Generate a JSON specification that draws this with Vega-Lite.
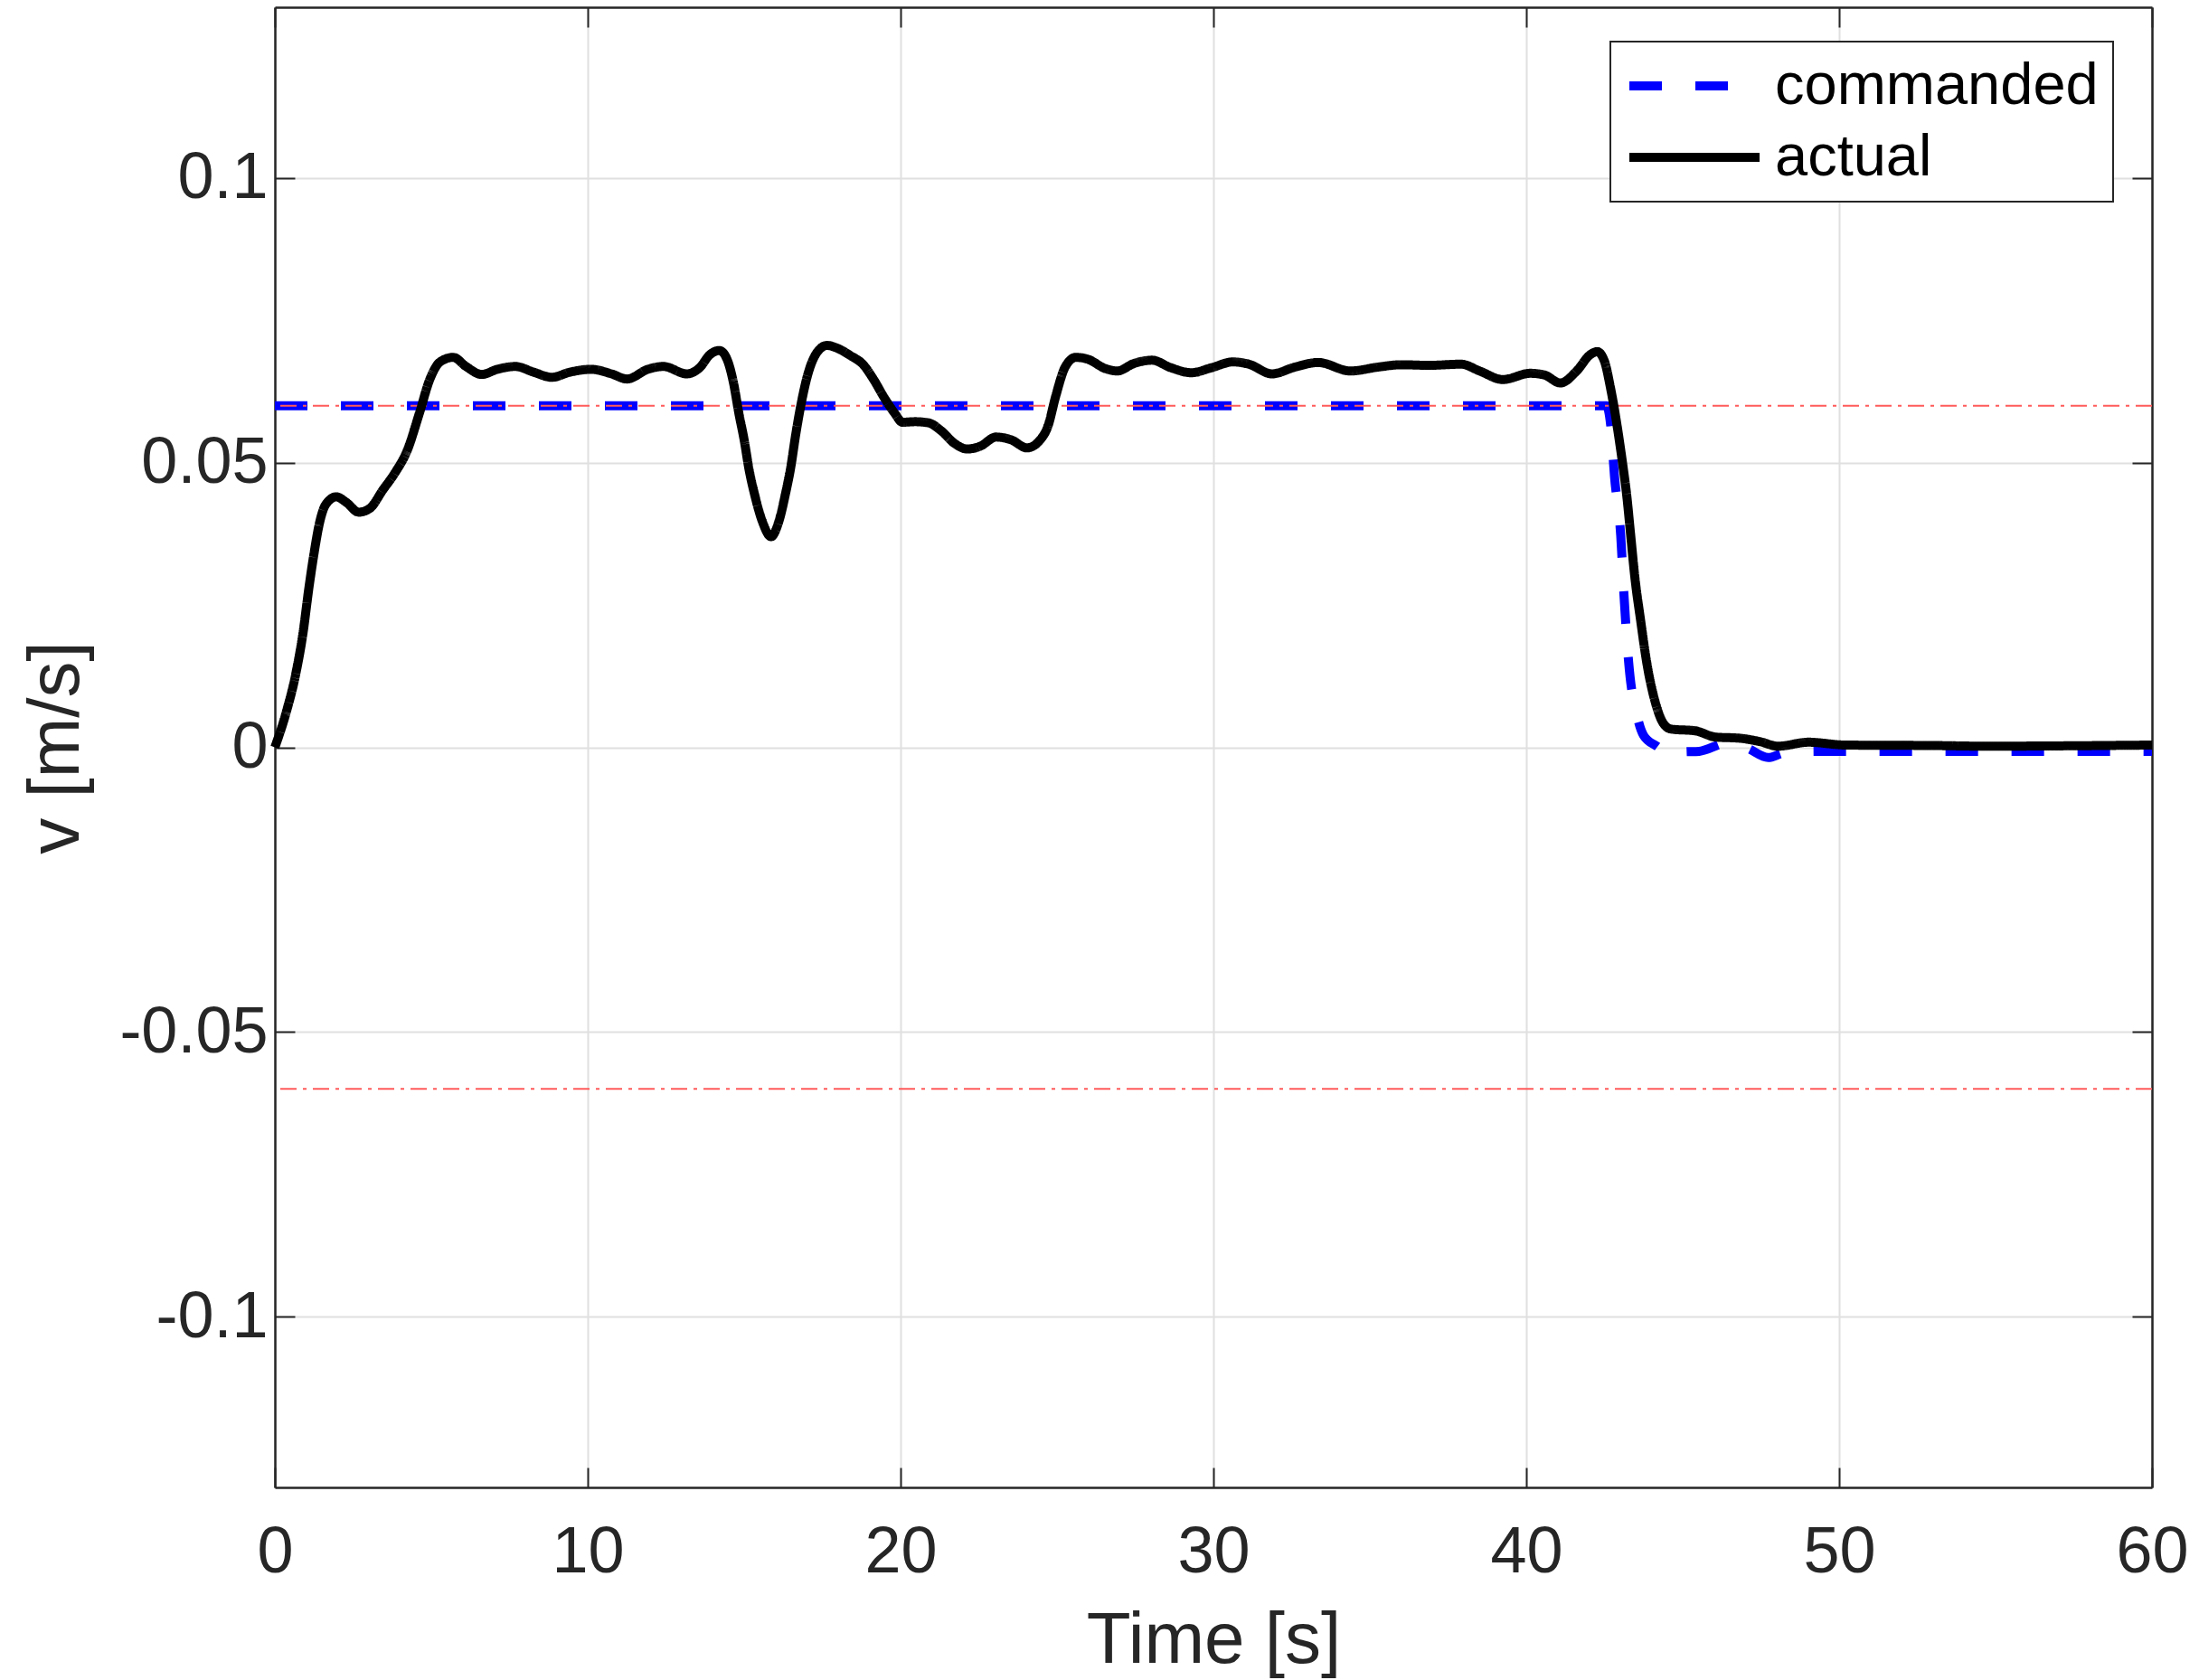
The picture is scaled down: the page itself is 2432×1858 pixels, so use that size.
{
  "$schema": "https://vega.github.io/schema/vega-lite/v6.json",
  "width": 2076,
  "height": 1637,
  "autosize": {"type": "none"},
  "padding": {"left": 304, "top": 8, "right": 52, "bottom": 213},
  "background": "white",
  "view": {"stroke": null},
  "datasets": {
    "speed": [
      {"t": 0, "v": 0.06, "series": "commanded"},
      {"t": 42.56, "v": 0.06, "series": "commanded"},
      {"t": 42.7, "v": 0.0565, "series": "commanded"},
      {"t": 42.82, "v": 0.0476, "series": "commanded"},
      {"t": 43.02, "v": 0.0371, "series": "commanded"},
      {"t": 43.12, "v": 0.027, "series": "commanded"},
      {"t": 43.27, "v": 0.0151, "series": "commanded"},
      {"t": 43.57, "v": 0.0049, "series": "commanded"},
      {"t": 43.75, "v": 0.0021, "series": "commanded"},
      {"t": 44.24, "v": -0.0001, "series": "commanded"},
      {"t": 44.5, "v": -0.0015, "series": "commanded"},
      {"t": 45.02, "v": -0.0008, "series": "commanded"},
      {"t": 45.53, "v": -0.0007, "series": "commanded"},
      {"t": 46.44, "v": 0.0008, "series": "commanded"},
      {"t": 47.08, "v": -0.0002, "series": "commanded"},
      {"t": 47.73, "v": -0.0018, "series": "commanded"},
      {"t": 48.24, "v": -0.001, "series": "commanded"},
      {"t": 49.41, "v": -0.0007, "series": "commanded"},
      {"t": 60, "v": -0.0007, "series": "commanded"},

      {"t": 0, "v": 0, "series": "actual"},
      {"t": 0.37, "v": 0.0063, "series": "actual"},
      {"t": 0.66, "v": 0.0127, "series": "actual"},
      {"t": 0.9, "v": 0.0201, "series": "actual"},
      {"t": 1.09, "v": 0.0281, "series": "actual"},
      {"t": 1.25, "v": 0.034, "series": "actual"},
      {"t": 1.43, "v": 0.0395, "series": "actual"},
      {"t": 1.62, "v": 0.0426, "series": "actual"},
      {"t": 1.96, "v": 0.044, "series": "actual"},
      {"t": 2.29, "v": 0.043, "series": "actual"},
      {"t": 2.68, "v": 0.0413, "series": "actual"},
      {"t": 3.04, "v": 0.042, "series": "actual"},
      {"t": 3.45, "v": 0.0452, "series": "actual"},
      {"t": 3.86, "v": 0.0484, "series": "actual"},
      {"t": 4.22, "v": 0.052, "series": "actual"},
      {"t": 4.62, "v": 0.0587, "series": "actual"},
      {"t": 4.95, "v": 0.0646, "series": "actual"},
      {"t": 5.28, "v": 0.0677, "series": "actual"},
      {"t": 5.7, "v": 0.0685, "series": "actual"},
      {"t": 6.11, "v": 0.0669, "series": "actual"},
      {"t": 6.61, "v": 0.0655, "series": "actual"},
      {"t": 7.11, "v": 0.0664, "series": "actual"},
      {"t": 7.69, "v": 0.0669, "series": "actual"},
      {"t": 8.27, "v": 0.0659, "series": "actual"},
      {"t": 8.85, "v": 0.065, "series": "actual"},
      {"t": 9.43, "v": 0.0659, "series": "actual"},
      {"t": 10.1, "v": 0.0664, "series": "actual"},
      {"t": 10.76, "v": 0.0656, "series": "actual"},
      {"t": 11.26, "v": 0.0647, "series": "actual"},
      {"t": 11.92, "v": 0.0664, "series": "actual"},
      {"t": 12.42, "v": 0.0669, "series": "actual"},
      {"t": 13.17, "v": 0.0656, "series": "actual"},
      {"t": 13.58, "v": 0.0667, "series": "actual"},
      {"t": 13.91, "v": 0.069, "series": "actual"},
      {"t": 14.21, "v": 0.0697, "series": "actual"},
      {"t": 14.45, "v": 0.0682, "series": "actual"},
      {"t": 14.66, "v": 0.064, "series": "actual"},
      {"t": 14.83, "v": 0.0587, "series": "actual"},
      {"t": 15.0, "v": 0.054, "series": "actual"},
      {"t": 15.16, "v": 0.0487, "series": "actual"},
      {"t": 15.33, "v": 0.0445, "series": "actual"},
      {"t": 15.58, "v": 0.0397, "series": "actual"},
      {"t": 15.86, "v": 0.037, "series": "actual"},
      {"t": 16.11, "v": 0.0397, "series": "actual"},
      {"t": 16.32, "v": 0.0445, "series": "actual"},
      {"t": 16.49, "v": 0.0492, "series": "actual"},
      {"t": 16.65, "v": 0.055, "series": "actual"},
      {"t": 16.82, "v": 0.0603, "series": "actual"},
      {"t": 17.04, "v": 0.0656, "series": "actual"},
      {"t": 17.32, "v": 0.0693, "series": "actual"},
      {"t": 17.65, "v": 0.0706, "series": "actual"},
      {"t": 17.98, "v": 0.0701, "series": "actual"},
      {"t": 18.4, "v": 0.0688, "series": "actual"},
      {"t": 18.81, "v": 0.0672, "series": "actual"},
      {"t": 19.14, "v": 0.0646, "series": "actual"},
      {"t": 19.48, "v": 0.0614, "series": "actual"},
      {"t": 19.81, "v": 0.0587, "series": "actual"},
      {"t": 20.06, "v": 0.0571, "series": "actual"},
      {"t": 20.47, "v": 0.0572, "series": "actual"},
      {"t": 20.89, "v": 0.057, "series": "actual"},
      {"t": 21.3, "v": 0.0556, "series": "actual"},
      {"t": 21.72, "v": 0.0534, "series": "actual"},
      {"t": 22.13, "v": 0.0524, "series": "actual"},
      {"t": 22.55, "v": 0.0529, "series": "actual"},
      {"t": 23.05, "v": 0.0545, "series": "actual"},
      {"t": 23.54, "v": 0.054, "series": "actual"},
      {"t": 24.04, "v": 0.0526, "series": "actual"},
      {"t": 24.46, "v": 0.054, "series": "actual"},
      {"t": 24.71, "v": 0.0564, "series": "actual"},
      {"t": 24.96, "v": 0.0617, "series": "actual"},
      {"t": 25.26, "v": 0.0668, "series": "actual"},
      {"t": 25.6, "v": 0.0685, "series": "actual"},
      {"t": 25.97, "v": 0.0682, "series": "actual"},
      {"t": 26.56, "v": 0.0665, "series": "actual"},
      {"t": 26.93, "v": 0.0661, "series": "actual"},
      {"t": 27.45, "v": 0.0674, "series": "actual"},
      {"t": 28.04, "v": 0.068, "series": "actual"},
      {"t": 28.63, "v": 0.0667, "series": "actual"},
      {"t": 29.29, "v": 0.0658, "series": "actual"},
      {"t": 29.95, "v": 0.0667, "series": "actual"},
      {"t": 30.62, "v": 0.0677, "series": "actual"},
      {"t": 31.13, "v": 0.0673, "series": "actual"},
      {"t": 31.87, "v": 0.0656, "series": "actual"},
      {"t": 32.61, "v": 0.0668, "series": "actual"},
      {"t": 33.35, "v": 0.0676, "series": "actual"},
      {"t": 34.38, "v": 0.0661, "series": "actual"},
      {"t": 35.27, "v": 0.0668, "series": "actual"},
      {"t": 36.0, "v": 0.0672, "series": "actual"},
      {"t": 36.89, "v": 0.0671, "series": "actual"},
      {"t": 37.92, "v": 0.0673, "series": "actual"},
      {"t": 38.51, "v": 0.0661, "series": "actual"},
      {"t": 39.25, "v": 0.0646, "series": "actual"},
      {"t": 40.13, "v": 0.0657, "series": "actual"},
      {"t": 40.58, "v": 0.0654, "series": "actual"},
      {"t": 41.09, "v": 0.064, "series": "actual"},
      {"t": 41.61, "v": 0.0661, "series": "actual"},
      {"t": 42.05, "v": 0.069, "series": "actual"},
      {"t": 42.27, "v": 0.0695, "series": "actual"},
      {"t": 42.5, "v": 0.0678, "series": "actual"},
      {"t": 42.69, "v": 0.0632, "series": "actual"},
      {"t": 42.82, "v": 0.0593, "series": "actual"},
      {"t": 42.95, "v": 0.0548, "series": "actual"},
      {"t": 43.08, "v": 0.0498, "series": "actual"},
      {"t": 43.21, "v": 0.0443, "series": "actual"},
      {"t": 43.34, "v": 0.0371, "series": "actual"},
      {"t": 43.47, "v": 0.0299, "series": "actual"},
      {"t": 43.66, "v": 0.0221, "series": "actual"},
      {"t": 43.85, "v": 0.0149, "series": "actual"},
      {"t": 44.11, "v": 0.0082, "series": "actual"},
      {"t": 44.37, "v": 0.0043, "series": "actual"},
      {"t": 44.63, "v": 0.0032, "series": "actual"},
      {"t": 45.4, "v": 0.0029, "series": "actual"},
      {"t": 46.05, "v": 0.0018, "series": "actual"},
      {"t": 46.82, "v": 0.0016, "series": "actual"},
      {"t": 47.47, "v": 0.001, "series": "actual"},
      {"t": 48.05, "v": 0.0002, "series": "actual"},
      {"t": 49.02, "v": 0.0009, "series": "actual"},
      {"t": 50.18, "v": 0.0004, "series": "actual"},
      {"t": 53.28, "v": 0.0003, "series": "actual"},
      {"t": 54.57, "v": 0.0002, "series": "actual"},
      {"t": 60, "v": 0.0004, "series": "actual"}
    ],
    "limits": [
      {"bound": 0.06},
      {"bound": -0.06}
    ]
  },
  "resolve": {"axis": {"x": "independent", "y": "independent"}},
  "layer": [
    {
      "data": {"name": "speed"},
      "transform": [{"filter": "datum.series === 'commanded'"}],
      "mark": {"type": "line", "strokeWidth": 10, "interpolate": "monotone", "strokeCap": "butt"},
      "encoding": {
        "x": {
          "field": "t", "type": "quantitative",
          "scale": {"domain": [0, 60], "nice": false, "zero": false},
          "axis": {"orient": "top", "labels": false, "grid": false, "title": null, "values": [0, 10, 20, 30, 40, 50, 60]}
        },
        "y": {
          "field": "v", "type": "quantitative",
          "scale": {"domain": [-0.13, 0.13], "nice": false, "zero": false},
          "axis": {"orient": "right", "labels": false, "grid": false, "title": null, "values": [-0.1, -0.05, 0, 0.05, 0.1]}
        },
        "color": {
          "field": "series", "type": "nominal",
          "scale": {"domain": ["commanded", "actual"], "range": ["#0000ff", "#000000"]},
          "legend": {"orient": "none", "legendX": 1477, "legendY": 38, "title": null}
        },
        "strokeDash": {
          "field": "series", "type": "nominal",
          "scale": {"domain": ["commanded", "actual"], "range": [[36, 37], [1, 0]]},
          "legend": {"orient": "none", "legendX": 1477, "legendY": 38, "title": null}
        }
      }
    },
    {
      "data": {"name": "limits"},
      "mark": {"type": "rule", "color": "#ff5a5a", "strokeWidth": 2, "strokeDash": [18, 7, 4, 7]},
      "encoding": {
        "y": {"field": "bound", "type": "quantitative", "axis": null}
      }
    },
    {
      "data": {"name": "speed"},
      "transform": [{"filter": "datum.series === 'actual'"}],
      "mark": {"type": "line", "strokeWidth": 10, "interpolate": "monotone", "strokeCap": "butt", "strokeJoin": "round"},
      "encoding": {
        "x": {
          "field": "t", "type": "quantitative",
          "axis": {"orient": "bottom", "title": "Time [s]", "grid": true, "values": [0, 10, 20, 30, 40, 50, 60], "labelPadding": 58, "titlePadding": 23}
        },
        "y": {
          "field": "v", "type": "quantitative",
          "axis": {"orient": "left", "title": "v [m/s]", "grid": true, "values": [-0.1, -0.05, 0, 0.05, 0.1], "labelExpr": "'' + datum.value", "labelPadding": 30, "titlePadding": 28}
        },
        "color": {
          "field": "series", "type": "nominal",
          "legend": {"orient": "none", "legendX": 1477, "legendY": 38, "title": null}
        },
        "strokeDash": {
          "field": "series", "type": "nominal",
          "legend": {"orient": "none", "legendX": 1477, "legendY": 38, "title": null}
        }
      }
    }
  ],
  "config": {
    "font": "Liberation Sans",
    "axis": {
      "labelFont": "Liberation Sans",
      "labelFontSize": 72,
      "labelColor": "#262626",
      "labelPadding": 28,
      "titleFont": "Liberation Sans",
      "titleFontSize": 80,
      "titleFontWeight": "normal",
      "titleColor": "#262626",
      "titlePadding": 20,
      "domainColor": "#262626",
      "domainWidth": 2.5,
      "tickColor": "#262626",
      "tickWidth": 2,
      "tickSize": -22,
      "gridColor": "#e0e0e0",
      "gridWidth": 2,
      "labelFlush": false,
      "labelOverlap": false
    },
    "legend": {
      "orient": "none",
      "legendX": 1477,
      "legendY": 38,
      "symbolType": "stroke",
      "symbolSize": 20736,
      "symbolStrokeWidth": 10,
      "clipHeight": 66,
      "rowPadding": 13,
      "labelOffset": 12,
      "labelFont": "Liberation Sans",
      "labelFontSize": 65,
      "labelColor": "#000000",
      "labelLimit": 0,
      "padding": 16,
      "fillColor": "#ffffff",
      "strokeColor": "#262626",
      "strokeWidth": 2
    }
  }
}
